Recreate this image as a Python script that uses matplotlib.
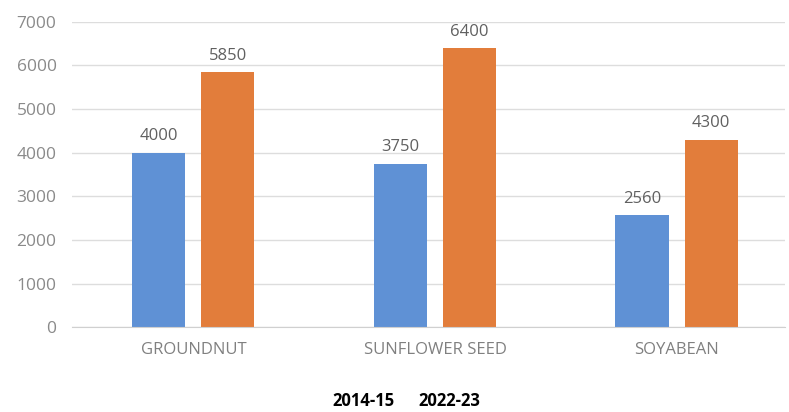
import numpy as np
import matplotlib.pyplot as plt

# ---------------------------------------------------------
#  Data
# ---------------------------------------------------------
crops = ["GROUNDNUT", "SUNFLOWER SEED", "SOYABEAN"]
msp_2014 = [4000, 3750, 2560]
msp_2022 = [5850, 6400, 4300]
series_names = ["2014-15", "2022-23"]
y_ticks = [0, 1000, 2000, 3000, 4000, 5000, 6000, 7000]

plt.rcParams['font.family'] = ['Open Sans', 'DejaVu Sans']

fig = plt.figure(figsize=(7.89, 4.12), dpi=100)
ax = fig.add_axes([0.091, 0.206, 0.904, 0.741])

x = np.arange(len(crops))
w = 0.22
off = 0.143

b1 = ax.bar(x - off, msp_2014, w, color="#5f91d5", label=series_names[0])
b2 = ax.bar(x + off, msp_2022, w, color="#e27d3b", label=series_names[1])

for bars in (b1, b2):
    ax.bar_label(bars, padding=6, fontsize=12, color="#606060")

ax.set_ylim(0, 7000)
ax.set_xlim(-0.503, 2.449)
ax.set_yticks(y_ticks)
ax.set_xticks(x)
ax.set_xticklabels(crops)
ax.tick_params(axis="y", length=0, pad=11, labelsize=12.5, labelcolor="#8a8a8a")
ax.tick_params(axis="x", length=0, pad=11, labelsize=12, labelcolor="#808080")

ax.grid(axis="y", color="#dddddd", linewidth=1)
ax.set_axisbelow(True)
for s in ["top", "right", "left"]:
    ax.spines[s].set_visible(False)
ax.spines["bottom"].set_color("#d0d0d0")

leg = fig.legend(handles=[b1, b2], labels=series_names, loc="center",
                 bbox_to_anchor=(0.515, 0.027), ncol=2, frameon=False,
                 handlelength=0, handletextpad=0, columnspacing=1.4,
                 prop={"size": 12, "weight": "bold"})
for h in leg.legend_handles:
    h.set_visible(False)

fig.savefig("out.png", dpi=100)
